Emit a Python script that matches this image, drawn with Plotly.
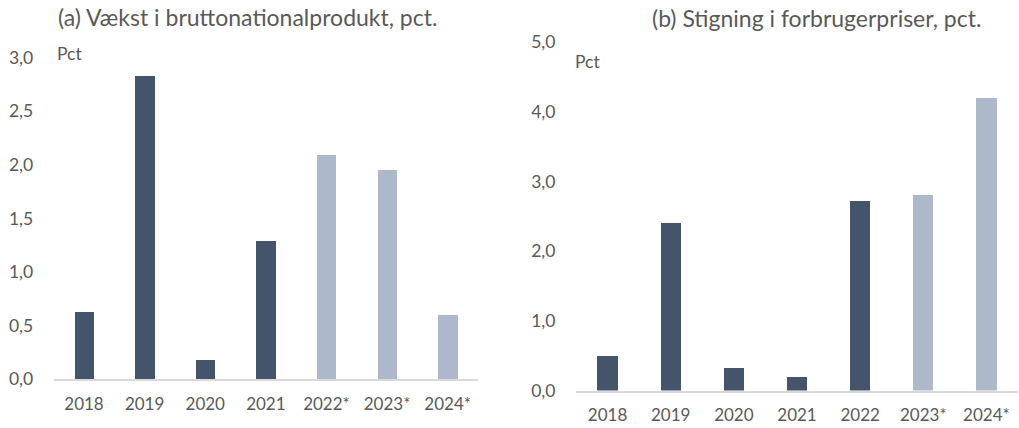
import plotly.graph_objects as go

# Data
years_a = ["2018", "2019", "2020", "2021", "2022*", "2023*", "2024*"]
gdp_growth = [0.63, 2.83, 0.18, 1.29, 2.10, 1.96, 0.60]
forecast_a = [False, False, False, False, True, True, True]

years_b = ["2018", "2019", "2020", "2021", "2022", "2023*", "2024*"]
cpi_growth = [0.50, 2.41, 0.32, 0.20, 2.72, 2.81, 4.20]
forecast_b = [False, False, False, False, False, True, True]

ticks_a = [0, 0.5, 1.0, 1.5, 2.0, 2.5, 3.0]
ticklabels_a = ["0,0", "0,5", "1,0", "1,5", "2,0", "2,5", "3,0"]
ticks_b = [0, 1, 2, 3, 4, 5]
ticklabels_b = ["0,0", "1,0", "2,0", "3,0", "4,0", "5,0"]

DARK = "#44546a"
LIGHT = "#adb9ca"
TXT = "#595959"
FONT = "Lato"

W, H = 1019, 428

fig = go.Figure()
fig.add_trace(go.Bar(x=years_a, y=gdp_growth, width=0.32,
                     marker=dict(color=[LIGHT if f else DARK for f in forecast_a], line=dict(width=0)),
                     xaxis="x", yaxis="y", showlegend=False))
fig.add_trace(go.Bar(x=years_b, y=cpi_growth, width=0.32,
                     marker=dict(color=[LIGHT if f else DARK for f in forecast_b], line=dict(width=0)),
                     xaxis="x2", yaxis="y2", showlegend=False))

xcommon = dict(showgrid=False, zeroline=False, showline=True, linecolor="#d9d9d9", linewidth=2,
               ticks="outside", tickcolor="rgba(0,0,0,0)", ticklen=8, automargin=False,
               ticklabeloverflow="allow",
               tickfont=dict(family=FONT, size=17, color=TXT), fixedrange=True)
ycommon = dict(showgrid=False, zeroline=False, showline=False, automargin=False,
               ticks="outside", tickcolor="rgba(0,0,0,0)", ticklen=16,
               tickfont=dict(family=FONT, size=17.5, color=TXT), fixedrange=True)

fig.update_layout(
    width=W, height=H,
    margin=dict(l=0, r=0, t=0, b=0),
    paper_bgcolor="white", plot_bgcolor="white",
    bargap=0,
    xaxis=dict(domain=[53.7 / W, 478 / W], anchor="y", **xcommon),
    yaxis=dict(domain=[1 - 379.3 / H, 1 - 57.5 / H], anchor="x", range=[0, 3.0],
               tickvals=ticks_a, ticktext=ticklabels_a, **ycommon),
    xaxis2=dict(domain=[576 / W, 1018 / W], anchor="y2", **xcommon),
    yaxis2=dict(domain=[1 - 390.5 / H, 1 - 42 / H], anchor="x2", range=[0, 5.0],
                tickvals=ticks_b, ticktext=ticklabels_b, **ycommon),
    annotations=[
        dict(text="(a) Vækst i bruttonationalprodukt, pct.", x=247 / W, y=1 - 17 / H,
             xref="paper", yref="paper", xanchor="center", yanchor="middle", showarrow=False,
             font=dict(family=FONT, size=23, color=TXT)),
        dict(text="(b) Stigning i forbrugerpriser, pct.", x=816 / W, y=1 - 18 / H,
             xref="paper", yref="paper", xanchor="center", yanchor="middle", showarrow=False,
             font=dict(family=FONT, size=23, color=TXT)),
        dict(text="Pct", x=55 / W, y=1 - 53 / H, xref="paper", yref="paper",
             xanchor="left", yanchor="middle", showarrow=False,
             font=dict(family=FONT, size=17.5, color=TXT)),
        dict(text="Pct", x=573 / W, y=1 - 61 / H, xref="paper", yref="paper",
             xanchor="left", yanchor="middle", showarrow=False,
             font=dict(family=FONT, size=17.5, color=TXT)),
    ],
)

fig.write_html("out.html",
               config={"displayModeBar": False},
               post_script="document.body.style.margin='0px';document.body.style.overflow='hidden';")
